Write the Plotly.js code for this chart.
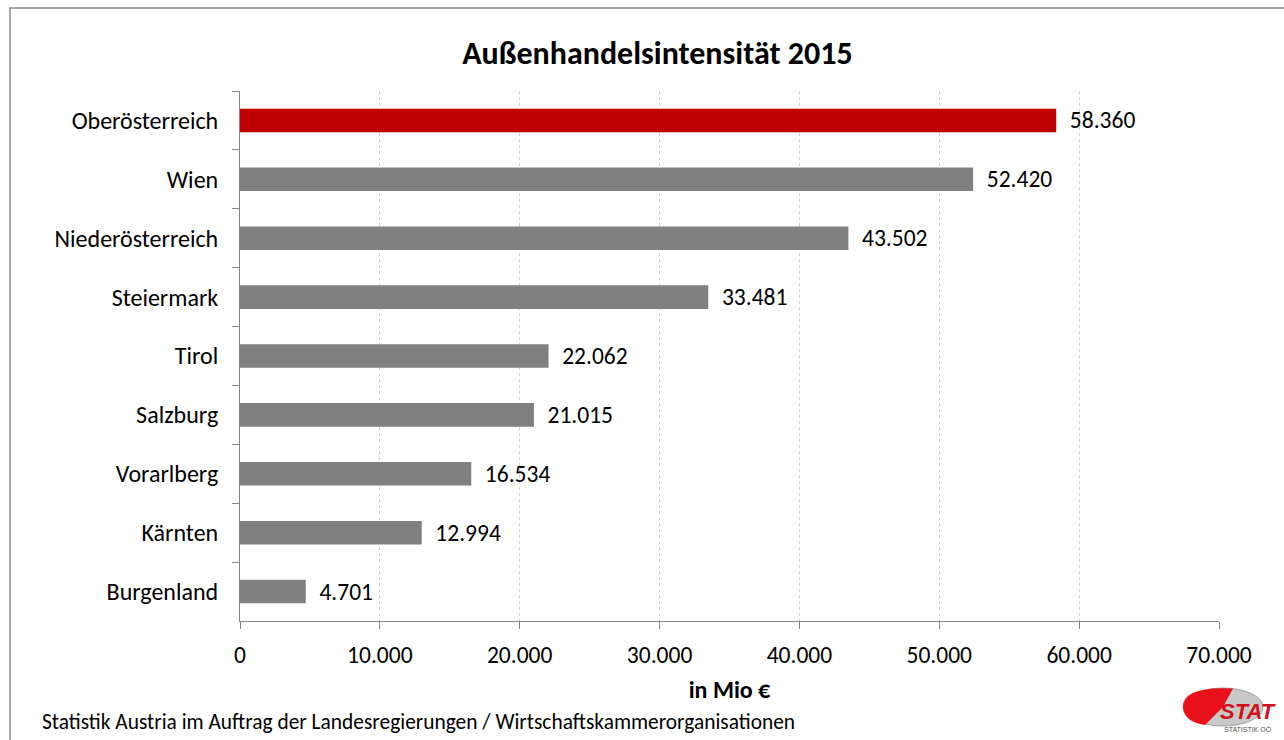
<!DOCTYPE html>
<html><head><meta charset="utf-8">
<script src="https://cdn.plot.ly/plotly-3.0.1.min.js"></script>
<style>body{margin:0;background:#fff}#c{width:1284px;height:740px}</style>
</head><body><div id="c"></div>
<script>
const regions = ["Oberösterreich","Wien","Niederösterreich","Steiermark","Tirol","Salzburg","Vorarlberg","Kärnten","Burgenland"];
const values = [58360,52420,43502,33481,22062,21015,16534,12994,4701];
const barColors = ["#C00000","#808080","#808080","#808080","#808080","#808080","#808080","#808080","#808080"];
const xTicks = [0,10000,20000,30000,40000,50000,60000,70000];

const L=240,R=1219,T=91,B=621;
const px=v=>(v-L)/(R-L), py=v=>(B-v)/(B-T);
const FONT="Carlito, Lato, 'Open Sans', sans-serif";

const trace={type:'bar',orientation:'h',y:regions,x:values,
  marker:{color:barColors},width:0.4,
  texttemplate:'\u00a0\u00a0%{x:,d}',textposition:'outside',cliponaxis:false,constraintext:'none',
  textfont:{family:FONT,size:23.5,color:'#000'},hoverinfo:'none'};

const ex0=px(1183),ex1=px(1263),ey0=py(726),ey1=py(688);
const layout={
  width:1284,height:740,paper_bgcolor:'#fff',plot_bgcolor:'#fff',
  margin:{l:L,r:1284-R,t:T,b:740-B},separators:',.',showlegend:false,
  font:{family:FONT,size:23.5,color:'#000'},
  title:{text:'<b>Außenhandelsintensität 2015</b>',x:0.512,xanchor:'center',y:0.929,yanchor:'middle',font:{family:FONT,size:32,color:'#000'}},
  xaxis:{range:[0,70000],tickvals:xTicks,tickformat:',d',showgrid:true,gridcolor:'#d0d0d0',griddash:'dot',gridwidth:1,
    zeroline:false,showline:true,linecolor:'#868686',ticks:'outside',ticklen:7,tickcolor:'#868686',
    tickfont:{family:FONT,size:23.5},ticklabelstandoff:6,fixedrange:true,
    title:{text:'<b>in Mio €</b>',font:{family:FONT,size:24},standoff:12}},
  yaxis:{autorange:'reversed',type:'category',showline:true,linecolor:'#868686',ticks:'outside',ticklen:7,tickcolor:'#868686',
    tickson:'boundaries',showgrid:false,tickfont:{family:FONT,size:24},ticklabelstandoff:16},
  bargap:0.6,
  shapes:[
    {type:'rect',xref:'paper',yref:'paper',x0:px(10),x1:px(1300),y0:py(760),y1:py(8),line:{color:'#8a8a8a',width:1.5},fillcolor:'rgba(0,0,0,0)'},
    {type:'circle',xref:'paper',yref:'paper',x0:ex0,x1:ex1,y0:ey0,y1:ey1,fillcolor:'#c8c8c8',line:{color:'#a0a0a0',width:1}},
    {type:'path',xref:'paper',yref:'paper',path:`M ${px(1223)},${py(707)} L ${px(1233)},${py(688.5)} Q ${px(1183)},${py(686)} ${px(1183)},${py(707)} Q ${px(1184)},${py(722)} ${px(1205)},${py(725)} Z`,fillcolor:'#e8101a',line:{width:0}}
  ],
  annotations:[
    {xref:'paper',yref:'paper',x:px(40),y:py(722),xanchor:'left',yanchor:'middle',showarrow:false,
     text:'Statistik Austria im Auftrag der Landesregierungen / Wirtschaftskammerorganisationen',font:{family:FONT,size:21.4,color:'#000'}},
    {xref:'paper',yref:'paper',x:px(1248),y:py(711),xanchor:'center',yanchor:'middle',showarrow:false,
     text:'<b><i>STAT</i></b>',font:{family:'Liberation Sans, Arial',size:22,color:'#d0101a'}},
    {xref:'paper',yref:'paper',x:px(1248),y:py(729),xanchor:'center',yanchor:'middle',showarrow:false,
     text:'STATISTIK OÖ',font:{family:'Liberation Sans, Arial',size:7,color:'#555'}}
  ]
};
Plotly.newPlot('c',[trace],layout,{staticPlot:true,displayModeBar:false});
</script></body></html>
